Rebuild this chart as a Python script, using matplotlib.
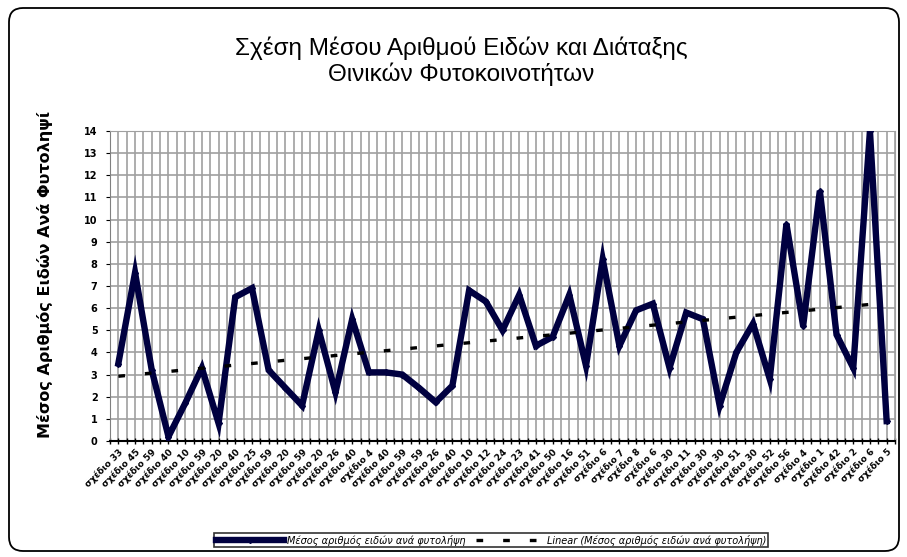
import numpy as np
import matplotlib
matplotlib.use("Agg")
import matplotlib.pyplot as plt
from matplotlib.ticker import MultipleLocator
from matplotlib.patches import FancyBboxPatch
from matplotlib.transforms import IdentityTransform

# mean number of species per releve
values = [3.5, 7.6, 3.2, 0.2, 1.7, 3.3, 0.8, 6.5, 6.9, 3.2,
          2.4, 1.6, 5.0, 2.2, 5.5, 3.1, 3.1, 3.0, 2.4, 1.75,
          2.5, 6.8, 6.3, 5.0, 6.6, 4.3, 4.7, 6.6, 3.4, 8.2,
          4.3, 5.9, 6.2, 3.3, 5.8, 5.5, 1.6, 4.0, 5.3, 2.8,
          9.8, 5.2, 11.3, 4.8, 3.3, 14.0, 0.9]
plot_nums = [33, 45, 59, 40, 10, 59, 20, 40, 25, 59,
             20, 59, 20, 26, 40, 4, 40, 59, 59, 26,
             40, 10, 12, 24, 23, 41, 50, 16, 51, 6,
             7, 8, 6, 30, 11, 30, 30, 51, 30, 52,
             56, 4, 1, 42, 2, 6, 5]
labels = ["σχέδιο %d" % n for n in plot_nums]

title = "Σχέση Μέσου Αριθμού Ειδών και Διάταξης\nΘινικών Φυτοκοινοτήτων"
ylabel = "Μέσος Αριθμός Ειδών Ανά Φυτοληψί"
series_name = "Μέσος αριθμός ειδών ανά φυτολήψη"
trend_name = "Linear (Μέσος αριθμός ειδών ανά φυτολήψη)"

x = np.arange(len(values))
k, b = np.polyfit(x, values, 1)

navy = "#000040"

fig = plt.figure(figsize=(9.07, 5.57), dpi=100)
ax = fig.add_axes([110/907, 1-441/557, 785/907, 310/557])

ax.plot(x, values, color=navy, lw=4.6, marker="D", ms=3, solid_joinstyle="miter",
        label=series_name, zorder=3)
ax.plot(x, k*x + b, color="black", lw=2.4, linestyle=(0, (2, 6)),
        label=trend_name, zorder=4)

ax.set_xlim(-0.5, len(values) - 0.5)
ax.set_ylim(0, 14)
ax.set_yticks(range(0, 15))
ax.set_xticks(x)
ax.set_xticklabels(labels, rotation=45, ha="right", rotation_mode="anchor",
                   fontsize=6.5, fontweight="bold")
ax.xaxis.set_minor_locator(MultipleLocator(0.5))
ax.grid(True, which="both", axis="x", color="#a0a0a0", lw=1.2)
ax.grid(True, which="major", axis="y", color="#a0a0a0", lw=1.2)
ax.set_axisbelow(True)
ax.tick_params(axis="x", which="both", direction="inout", length=5, width=1, color="black", pad=2)
ax.tick_params(axis="y", direction="out", length=3, labelsize=7, pad=6)
for t in ax.get_yticklabels():
    t.set_fontweight("bold")
for s in ["top", "right"]:
    ax.spines[s].set_color("#a0a0a0")
ax.spines["bottom"].set_linewidth(1.5)
ax.spines["left"].set_color("#808080")

fig.text(45/907, 1-274/557, ylabel, rotation=90, ha="center", va="center",
         fontsize=11.5, fontweight="bold")
fig.text(461/907, 1-61/557, title, ha="center", va="center", fontsize=17.5,
         family=["Liberation Sans", "DejaVu Sans"], linespacing=1.15)

leg = fig.legend(loc="center", bbox_to_anchor=(491/907, 1-540/557), ncol=2,
                 frameon=True, fancybox=False, edgecolor="black",
                 handlelength=7, borderpad=0.2, columnspacing=1.1, handletextpad=0.3,
                 prop={"size": 7.0, "style": "italic"})
leg.get_frame().set_linewidth(1.2)

frame = FancyBboxPatch((9, 6), 890, 543, boxstyle="round,pad=0,rounding_size=14",
                       transform=IdentityTransform(), facecolor="none",
                       edgecolor="black", lw=1.3)
fig.patches.append(frame)

fig.savefig("out.png", dpi=100)
